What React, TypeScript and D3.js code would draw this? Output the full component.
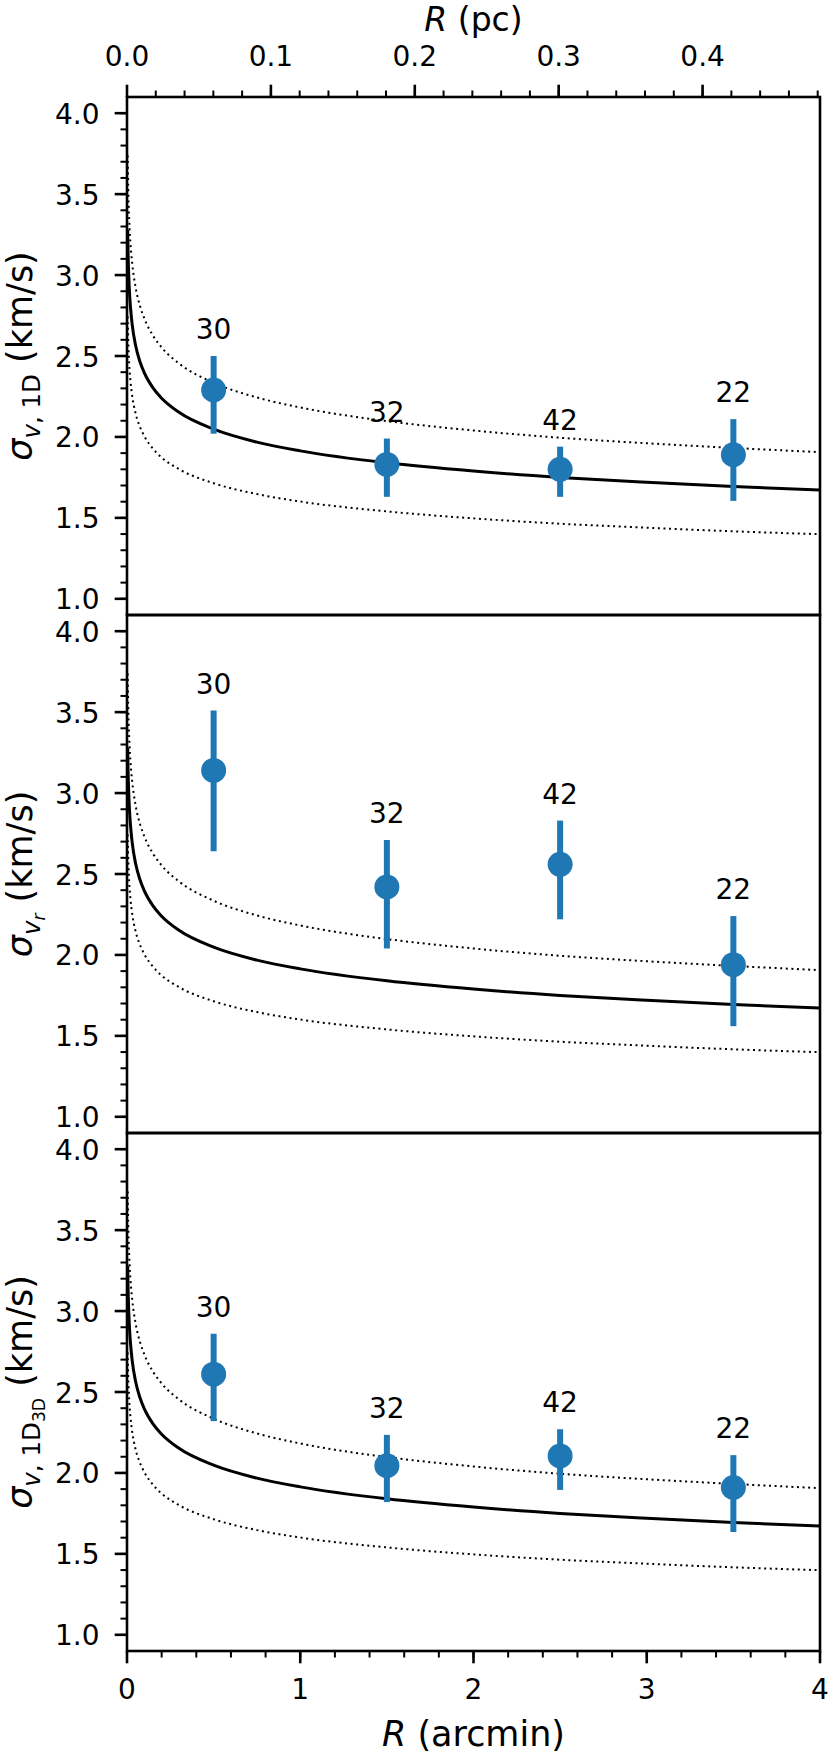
import React from "react";
import * as d3 from "d3";

// ---- data ----
const radiusArcmin = [0.5, 1.5, 2.5, 3.5];
const starCounts = [30, 32, 42, 22];

const sigma1D = [2.29, 1.83, 1.8, 1.89];
const sigma1DLo = [2.02, 1.63, 1.63, 1.605];
const sigma1DHi = [2.5, 1.99, 1.94, 2.11];

const sigmaVr = [3.14, 2.42, 2.56, 1.94];
const sigmaVrLo = [2.64, 2.04, 2.22, 1.56];
const sigmaVrHi = [3.51, 2.71, 2.83, 2.24];

const sigma3D = [2.61, 2.045, 2.105, 1.91];
const sigma3DLo = [2.32, 1.82, 1.895, 1.635];
const sigma3DHi = [2.86, 2.235, 2.27, 2.11];

// model curve (solid) and its two dotted bounds
const modelR = [0.004, 0.006, 0.01, 0.015, 0.02, 0.03, 0.05, 0.075, 0.1, 0.15, 0.2, 0.3, 0.5, 0.75, 1, 1.5, 2, 2.5, 3, 3.5, 4];
const modelMid = [3.279, 3.152, 2.999, 2.883, 2.803, 2.694, 2.563, 2.464, 2.396, 2.303, 2.239, 2.152, 2.048, 1.968, 1.914, 1.84, 1.789, 1.75, 1.72, 1.694, 1.672];
const modelUpper = [3.739, 3.594, 3.419, 3.287, 3.196, 3.072, 2.922, 2.809, 2.732, 2.626, 2.553, 2.454, 2.335, 2.244, 2.182, 2.098, 2.04, 1.995, 1.961, 1.932, 1.906];
const modelLower = [2.744, 2.637, 2.509, 2.412, 2.345, 2.254, 2.144, 2.062, 2.005, 1.927, 1.873, 1.801, 1.714, 1.647, 1.601, 1.54, 1.497, 1.464, 1.439, 1.417, 1.399];

const pcPerArcmin = 0.1204;

const yTicks = [1.0, 1.5, 2.0, 2.5, 3.0, 3.5, 4.0];
const yMinor = d3.range(10, 41).map((v) => v / 10);
const xTicks = [0, 1, 2, 3, 4];
const xMinor = d3.range(0, 21).map((v) => v / 5);
const pcTicks = [0.0, 0.1, 0.2, 0.3, 0.4];
const pcMinor = d3.range(0, 25).map((v) => v / 50);

// ---- layout ----
const W = 830;
const H = 1754;
const left = 127;
const right = 820;
const top = 97;
const panelH = 518;
const blue = "#1f77b4";
const font = "DejaVu Sans";
const tickFs = 28;
const labelFs = 35;

const x = d3.scaleLinear().domain([0, 4]).range([left, right]);
const xPc = d3.scaleLinear().domain([0, 4 * pcPerArcmin]).range([left, right]);

interface PanelProps {
  index: number;
  values: number[];
  lo: number[];
  hi: number[];
  label: React.ReactNode;
}

function Panel({ index, values, lo, hi, label }: PanelProps) {
  const y0 = top + index * panelH;
  const y = d3.scaleLinear().domain([0.9, 4.1]).range([y0 + panelH, y0]);
  const line = d3
    .line<number>()
    .x((_, i) => x(modelR[i]))
    .y((d) => y(d))
    .curve(d3.curveMonotoneX);
  const clipId = `clip${index}`;

  return (
    <g>
      <clipPath id={clipId}>
        <rect x={left} y={y0} width={right - left} height={panelH} />
      </clipPath>
      <g clipPath={`url(#${clipId})`}>
        <path d={line(modelMid) || ""} fill="none" stroke="#000" strokeWidth={3} />
        <path d={line(modelUpper) || ""} fill="none" stroke="#000" strokeWidth={2} strokeDasharray="2 3.6" />
        <path d={line(modelLower) || ""} fill="none" stroke="#000" strokeWidth={2} strokeDasharray="2 3.6" />
      </g>
      {values.map((v, i) => (
        <g key={i}>
          <line x1={x(radiusArcmin[i])} x2={x(radiusArcmin[i])} y1={y(lo[i])} y2={y(hi[i])} stroke={blue} strokeWidth={6} />
          <circle cx={x(radiusArcmin[i])} cy={y(v)} r={12.5} fill={blue} />
          <text x={x(radiusArcmin[i])} y={y(hi[i]) - 17} textAnchor="middle" fontSize={tickFs}>
            {starCounts[i]}
          </text>
        </g>
      ))}
      {/* left ticks */}
      {yMinor.map((t) => (
        <line key={`m${t}`} x1={left - 6.5} x2={left} y1={y(t)} y2={y(t)} stroke="#000" strokeWidth={2} />
      ))}
      {yTicks.map((t) => (
        <g key={`t${t}`}>
          <line x1={left - 12.3} x2={left} y1={y(t)} y2={y(t)} stroke="#000" strokeWidth={2.6} />
          <text x={left - 27.5} y={y(t) + 10.5} textAnchor="end" fontSize={tickFs}>
            {t.toFixed(1)}
          </text>
        </g>
      ))}
      <rect x={left} y={y0} width={right - left} height={panelH} fill="none" stroke="#000" strokeWidth={2.6} />
      <text transform={`translate(32, ${y0 + panelH / 2}) rotate(-90)`} textAnchor="middle" fontSize={labelFs}>
        {label}
      </text>
    </g>
  );
}

export default function App() {
  const bottom = top + 3 * panelH;
  const subFs = labelFs * 0.7;
  const subSubFs = labelFs * 0.49;
  return (
    <>
      <style>{`body{margin:0}`}</style>
      <svg width={W} height={H} viewBox={`0 0 ${W} ${H}`} fontFamily={font} style={{ display: "block", background: "#fff" }}>
        <Panel
          index={0}
          values={sigma1D}
          lo={sigma1DLo}
          hi={sigma1DHi}
          label={
            <>
              <tspan fontStyle="italic">σ</tspan>
              <tspan fontSize={subFs} fontStyle="italic" dy={8}>v</tspan>
              <tspan fontSize={subFs}>, 1D</tspan>
              <tspan dy={-8}> (km/s)</tspan>
            </>
          }
        />
        <Panel
          index={1}
          values={sigmaVr}
          lo={sigmaVrLo}
          hi={sigmaVrHi}
          label={
            <>
              <tspan fontStyle="italic">σ</tspan>
              <tspan fontSize={subFs} fontStyle="italic" dy={8}>v</tspan>
              <tspan fontSize={subSubFs} fontStyle="italic" dy={5}>r</tspan>
              <tspan dy={-13}> (km/s)</tspan>
            </>
          }
        />
        <Panel
          index={2}
          values={sigma3D}
          lo={sigma3DLo}
          hi={sigma3DHi}
          label={
            <>
              <tspan fontStyle="italic">σ</tspan>
              <tspan fontSize={subFs} fontStyle="italic" dy={8}>v</tspan>
              <tspan fontSize={subFs}>, 1D</tspan>
              <tspan fontSize={subSubFs} dy={5}>3D</tspan>
              <tspan dy={-13}> (km/s)</tspan>
            </>
          }
        />
        {/* top axis in pc */}
        {pcMinor.map((t) => (
          <line key={`pm${t}`} x1={xPc(t)} x2={xPc(t)} y1={top - 6.5} y2={top} stroke="#000" strokeWidth={2} />
        ))}
        {pcTicks.map((t) => (
          <g key={`pt${t}`}>
            <line x1={xPc(t)} x2={xPc(t)} y1={top - 12.3} y2={top} stroke="#000" strokeWidth={2.6} />
            <text x={xPc(t)} y={top - 31.3} textAnchor="middle" fontSize={tickFs}>
              {t.toFixed(1)}
            </text>
          </g>
        ))}
        <text x={(left + right) / 2} y={31} textAnchor="middle" fontSize={33}>
          <tspan fontStyle="italic">R</tspan> (pc)
        </text>
        {/* bottom axis in arcmin */}
        {xMinor.map((t) => (
          <line key={`xm${t}`} x1={x(t)} x2={x(t)} y1={bottom} y2={bottom + 6.5} stroke="#000" strokeWidth={2} />
        ))}
        {xTicks.map((t) => (
          <g key={`xt${t}`}>
            <line x1={x(t)} x2={x(t)} y1={bottom} y2={bottom + 12.3} stroke="#000" strokeWidth={2.6} />
            <text x={x(t)} y={bottom + 48} textAnchor="middle" fontSize={tickFs}>
              {t}
            </text>
          </g>
        ))}
        <text x={(left + right) / 2} y={1746} textAnchor="middle" fontSize={labelFs}>
          <tspan fontStyle="italic">R</tspan> (arcmin)
        </text>
      </svg>
    </>
  );
}
